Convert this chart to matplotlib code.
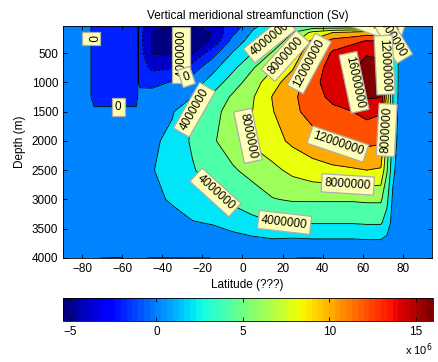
import numpy as np
import matplotlib
matplotlib.use("Agg")
import matplotlib.pyplot as plt
from matplotlib.colors import Normalize

plt.rcParams['font.family'] = ['Liberation Sans', 'DejaVu Sans']

# ---- data (streamfunction in Sv = 1e6 m^3/s) ----
lat = [-89.5, -80, -76, -74, -60, -53, -52, -51, -45, -35, -25, -15, -5,
       5, 15, 25, 35, 45, 55, 62, 69, 72, 75, 78, 85, 94.5]
depth = [39, 150, 300, 500, 750, 1000, 1250, 1500, 2000, 2500, 3000, 3400, 3700, 4000]

# one profile (top -> bottom) per latitude
psi_by_lat = [
    [0.3, 0.3, 0.3, 0.3, 0.3, 0.3, 0.3, 0.3, 0.3, 0.3, 0.3, 0.3, 0.3, 0.3],
    [0.3, 0.3, 0.3, 0.3, 0.3, 0.3, 0.3, 0.3, 0.3, 0.3, 0.3, 0.3, 0.3, 0.3],
    [0.3, 0.3, 0.3, 0.3, 0.3, 0.3, 0.3, 0.3, 0.3, 0.3, 0.3, 0.3, 0.3, 0.3],
    [-1, -1, -1, -1, -1, -1, -1, 0.5, 0.4, 0.3, 0.3, 0.3, 0.3, 0.003],
    [-1, -1, -1, -1, -1, -1, -1, 0.5, 0.4, 0.3, 0.3, 0.3, 0.3, -0.01],
    [-1, -1, -1, -1, -1, -1, -1, 0.5, 0.5, 0.4, 0.3, 0.3, 0.3, 0.3],
    [0.05, 0.05, 0.05, 0.05, 0.05, 0.05, 0.5, 0.6, 0.7, 0.8, 0.6, 0.5, 0.4, 0.3],
    [-1.3, -1.4, -1.4, -1.3, -1.0, -0.3, 0.5, 0.7, 1.0, 1.2, 1.0, 0.7, 0.5, 0.013],
    [-3.3, -4.1, -4.2, -4.1, -2.5, -0.4, 0.6, 1.1, 1.6, 1.9, 1.6, 1.1, 0.7, -0.01],
    [-3.8, -5.3, -5.4, -4.5, -2.2, 0.1, 1.1, 1.8, 2.6, 2.8, 2.2, 1.4, 0.8, -0.01],
    [-3.7, -4.9, -4.8, -4.2, -1.0, 1.0, 2.0, 4.0, 4.3, 3.8, 2.9, 1.9, 1.0, -0.01],
    [-2.8, -3.95, -3.8, -0.8, 1.4, 2.8, 4.4, 5.2, 5.7, 5.0, 3.5, 2.1, 1.2, 0.001],
    [-1.3, -0.5, 0.8, 2.1, 3.5, 5.0, 6.3, 7.0, 7.2, 5.7, 4.4, 2.8, 1.2, 0.3],
    [1.6, 2.2, 2.9, 4.0, 5.8, 7.0, 7.8, 8.0, 8.3, 6.8, 4.8, 3.6, 1.5, 0.3],
    [3.0, 3.6, 4.4, 6.2, 7.8, 9.3, 10.1, 9.9, 9.3, 7.5, 5.9, 3.9, 1.8, 0.3],
    [4.5, 6.0, 7.3, 8.5, 9.8, 11.0, 11.6, 11.5, 10.4, 8.5, 6.2, 4.0, 1.7, 0.0025],
    [4.5, 8.5, 10.5, 11.8, 12.8, 13.3, 13.2, 12.8, 11.2, 9.2, 6.2, 4.1, 1.8, -0.01],
    [4.0, 10.0, 12.8, 14.3, 15.0, 15.2, 14.5, 13.5, 12.3, 9.5, 6.2, 4.1, 1.8, 0.0117],
    [4.0, 10.5, 13.5, 15.3, 15.9, 15.95, 15.4, 14.0, 12.3, 9.8, 6.2, 4.1, 1.8, 0.3],
    [4.0, 11.0, 14.2, 15.9, 16.4, 16.5, 16.2, 14.6, 12.5, 10.0, 6.3, 4.2, 1.9, 0.3],
    [3.5, 10.5, 14.0, 15.8, 16.3, 16.4, 16.1, 14.2, 12.3, 9.8, 6.3, 4.2, 1.9, 0.3],
    [2.5, 6.0, 8.0, 9.0, 9.5, 9.5, 9.2, 8.5, 7.5, 6.2, 4.5, 3.2, 1.5, 0.3],
    [1.2, 2.5, 3.5, 4.0, 4.2, 4.2, 4.0, 3.8, 3.3, 2.5, 1.6, 1.2, 0.8, 0.3],
    [0.6, 1.3, 1.6, 1.7, 1.7, 1.7, 1.6, 1.5, 1.3, 1.0, 0.8, 0.6, 0.5, 0.3],
    [0.5, 0.5, 0.5, 0.5, 0.5, 0.5, 0.5, 0.5, 0.5, 0.5, 0.5, 0.5, 0.5, 0.3],
    [0.5, 0.5, 0.5, 0.5, 0.5, 0.5, 0.5, 0.5, 0.5, 0.5, 0.5, 0.5, 0.5, 0.3],
]

levels_sv = [-4, -2, 0, 2, 4, 6, 8, 10, 12, 14, 16]
label_levels_sv = [-4, 0, 4, 8, 12, 16]
# approximate spots (lat, depth) where the reference puts its contour labels
# (listed in drawing order: later ones sit on top)
label_spots = [(67, 60), (76, 200),
               (-77, 250), (-62, 1440), (-31, 415), (-28.6, 840),
               (13, 245), (-26, 1390), (-13.7, 2890), (21, 3370),
               (21, 535), (6, 1935), (52.6, 2700), (72, 1815),
               (34.6, 700), (47.6, 1985), (54.6, 1010), (70.5, 705)]
vertical_labels = ['-4000000']
clim_sv = (-5.4, 16.0)
cbar_ticks = [-5, 0, 5, 10, 15]
xticks = [-80, -60, -40, -20, 0, 20, 40, 60, 80]
yticks = [500, 1000, 1500, 2000, 2500, 3000, 3500, 4000]

# ---- build ----
scale = 1e6
psi = np.array(psi_by_lat, dtype=float).T * scale
LAT, DEP = np.meshgrid(lat, depth)

cmap = plt.get_cmap('jet', 64)
norm = Normalize(clim_sv[0] * scale, clim_sv[1] * scale)
levels = np.array(levels_sv, dtype=float) * scale
fill_levels = np.concatenate([[psi.min() - 1], levels, [psi.max() + 1]])
# MATLAB-like: each band coloured by its lower bound (lowest band by data min)
lower_bounds = [clim_sv[0] * scale] + list(levels)
band_colors = [cmap(norm(v)) for v in lower_bounds]

fig = plt.figure(figsize=(4.38, 3.62), dpi=100)
ax = fig.add_axes([63 / 438, 1 - 258 / 362, 369 / 438, 232 / 362])

ax.contourf(LAT, DEP, psi, levels=fill_levels, colors=band_colors)
lab_levels = [l * scale for l in label_levels_sv]
other_levels = [l * scale for l in levels_sv if l not in label_levels_sv]
ax.contour(LAT, DEP, psi, levels=other_levels, colors='k', linewidths=0.6)
cs_lab = ax.contour(LAT, DEP, psi, levels=lab_levels, colors='k', linewidths=0.6)

ax.set_xlim(-89.5, 94.5)
ax.set_ylim(4000, 39)

texts = ax.clabel(cs_lab, fmt='%d', fontsize=8.5, inline=False, manual=label_spots)
for i, t in enumerate(texts):
    t.set_bbox(dict(facecolor=(1, 1, 0.72), edgecolor=(0.68, 0.68, 0.68),
                    linewidth=0.9, pad=2.2))
    t.set_clip_on(True)
    t.set_zorder(3 + 0.01 * i)
    if t.get_text() in vertical_labels:
        t.set_rotation(90)

ax.set_xticks(xticks)
ax.set_yticks(yticks)
ax.set_yticklabels([str(v) for v in yticks])
ax.tick_params(direction='in', top=True, right=True, length=3, labelsize=8.5, width=0.6)
for s in ax.spines.values():
    s.set_linewidth(0.6)
    s.set_zorder(5)
ax.set_xlabel('Latitude (???)', fontsize=8.5, labelpad=3)
ax.set_ylabel('Depth (m)', fontsize=8.5, labelpad=4)
ax.set_title('Vertical meridional streamfunction (Sv)', fontsize=8.5, pad=5)

# colorbar
cax = fig.add_axes([63 / 438, 1 - 321 / 362, 370 / 438, 23.5 / 362])
sm = plt.cm.ScalarMappable(cmap=cmap, norm=Normalize(*clim_sv))
cb = fig.colorbar(sm, cax=cax, orientation='horizontal', ticks=cbar_ticks)
cb.outline.set_linewidth(0.6)
cax.tick_params(axis='x', direction='in', top=True, bottom=True, length=3,
                labelsize=8.5, width=0.6)
fig.text(433 / 438, 1 - 350 / 362, r'x 10$^{6}$', ha='right', va='center', fontsize=8)

fig.savefig('out.png', dpi=100)
